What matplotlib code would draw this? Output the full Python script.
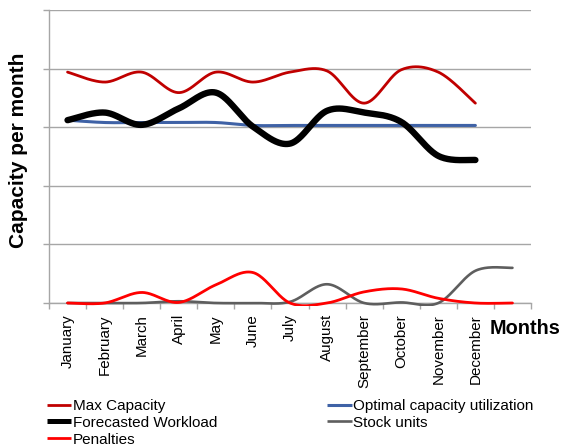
import numpy as np
import matplotlib
matplotlib.use("Agg")
import matplotlib.pyplot as plt
from matplotlib.patches import Rectangle
from matplotlib.lines import Line2D

plt.rcParams['font.family'] = ['Liberation Sans', 'DejaVu Sans']

# ---- data ----
months = ["January", "February", "March", "April", "May", "June", "July",
          "August", "September", "October", "November", "December", ""]
max_capacity = [3.94, 3.77, 3.94, 3.59, 3.94, 3.77, 3.94, 3.96, 3.41, 3.98, 3.94, 3.41]
optimal_util = [3.12, 3.08, 3.08, 3.08, 3.08, 3.03, 3.03, 3.03, 3.03, 3.03, 3.03, 3.03]
workload = [3.12, 3.25, 3.04, 3.32, 3.59, 3.01, 2.72, 3.28, 3.25, 3.09, 2.51, 2.44]
stock_units = [0, 0, 0, 0.03, 0, 0, 0.02, 0.32, 0, 0.01, 0, 0.55, 0.60]
penalties = [0, 0, 0.18, 0.01, 0.31, 0.52, 0, 0, 0.19, 0.24, 0.08, 0, 0]


def smooth(xs, ys, n=40):
    """Cubic Bezier smoothing through every point (spreadsheet-style)."""
    p = np.column_stack([xs, ys]).astype(float)
    m = len(p)
    out = []
    t = np.linspace(0, 1, n)[:, None]
    for i in range(m - 1):
        p0 = p[max(i - 1, 0)]
        p1 = p[i]
        p2 = p[i + 1]
        p3 = p[min(i + 2, m - 1)]
        c1 = p1 + (p2 - p0) / 6.0
        c2 = p2 - (p3 - p1) / 6.0
        seg = ((1 - t) ** 3) * p1 + 3 * ((1 - t) ** 2) * t * c1 \
            + 3 * (1 - t) * t ** 2 * c2 + t ** 3 * p2
        out.append(seg if i == 0 else seg[1:])
    s = np.vstack(out)
    return s[:, 0], s[:, 1]


fig = plt.figure(figsize=(5.61, 4.48), dpi=100)
ax = fig.add_axes([49 / 561, 1 - 303 / 448, 482 / 561, 293 / 448])

ax.set_xlim(0, len(months))
ax.set_ylim(0, 5)

clip = Rectangle((0, -0.009), 1, 1.009, transform=ax.transAxes,
                 fill=False, visible=False)
ax.add_patch(clip)

series = [
    (max_capacity, "Max Capacity", "#C00000", 2.0),
    (optimal_util, "Optimal capacity utilization", "#3F62A6", 2.2),
    (workload, "Forecasted Workload", "#000000", 4.6),
    (stock_units, "Stock units", "#5E5E5E", 1.9),
    (penalties, "Penalties", "#FF0000", 2.0),
]
handles = {}
for vals, name, color, lw in series:
    xs = np.arange(len(vals)) + 0.5
    sx, sy = smooth(xs, vals)
    line, = ax.plot(sx, sy, color=color, lw=lw, label=name, zorder=3,
                    solid_capstyle='round', solid_joinstyle='round')
    line.set_clip_path(clip)
    handles[name] = Line2D([], [], color=color, lw=min(lw, 3.6),
                           solid_capstyle='butt')

# axes styling
grid_c = "#A6A6A6"
ax.set_yticks(range(0, 6))
ax.set_yticklabels([])
ax.yaxis.grid(True, color=grid_c, lw=1.0)
ax.set_axisbelow(True)
for s in ("top", "right"):
    ax.spines[s].set_visible(False)
for s in ("left", "bottom"):
    ax.spines[s].set_color(grid_c)
    ax.spines[s].set_linewidth(1.0)
ax.tick_params(axis='y', length=4, color=grid_c, width=1.0)

ax.set_xticks(np.arange(0, len(months) + 1))
ax.set_xticklabels([])
ax.tick_params(axis='x', which='major', length=4, color=grid_c, width=1.0)
ax.set_xticks(np.arange(len(months)) + 0.5, minor=True)
ax.set_xticklabels(months, minor=True, rotation=90, fontsize=10.9,
                   ha='center', va='top')
ax.tick_params(axis='x', which='minor', length=0, pad=8)

fig.text(18 / 561, 1 - 150 / 448, "Capacity per month", rotation=90,
         fontsize=15, fontweight='bold', ha='center', va='center')
fig.text(490 / 561, 1 - 328 / 448, "Months", fontsize=14.3,
         fontweight='bold', ha='left', va='center')

order = ["Max Capacity", "Forecasted Workload", "Penalties",
         "Optimal capacity utilization", "Stock units"]
fig.legend([handles[k] for k in order], order, ncol=2, loc='upper left',
           bbox_to_anchor=(47 / 561, 1 - 399 / 448), frameon=False,
           fontsize=11, handlelength=1.6, handletextpad=0.1,
           columnspacing=7.2, labelspacing=0.18, borderpad=0,
           borderaxespad=0)

fig.savefig("out.png", dpi=100)
